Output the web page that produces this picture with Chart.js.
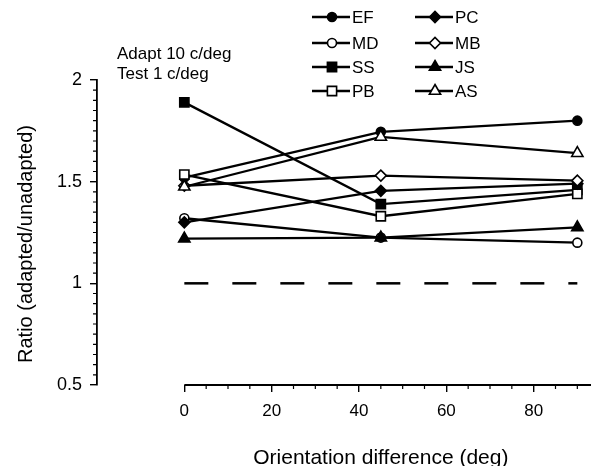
<!DOCTYPE html>
<html>
<head>
<meta charset="utf-8">
<script src="https://cdn.jsdelivr.net/npm/chart.js@4.4.1/dist/chart.umd.min.js"></script>
<style>
  html, body { margin: 0; padding: 0; background: #fff; overflow: hidden; }
</style>
</head>
<body>
<canvas id="mycanvas" width="630" height="466"></canvas>
<script>
// orientation difference (deg)
var angles = [0, 45, 90];

// ratio adapted/unadapted, one array per subject
var EF = [1.52, 1.745, 1.80];
var MD = [1.32, 1.225, 1.20];
var SS = [1.89, 1.39, 1.46];
var PB = [1.535, 1.33, 1.44];
var PC = [1.30, 1.455, 1.49];
var MB = [1.48, 1.53, 1.505];
var JS = [1.22, 1.225, 1.275];
var AS = [1.475, 1.72, 1.64];

// no-effect reference line
var refX = [0, 90];
var refY = [1, 1];

var xTickLabels = [0, 20, 40, 60, 80];
var yTickLabels = [0.5, 1, 1.5, 2];

var FONT = "'Liberation Sans', Arial, Helvetica, sans-serif";

function pts(xs, ys) {
	var out = [];
	for (var i in xs) out.push({x: xs[i], y: ys[i]});
	return out;
}

// name, data, marker, filled, radius
var subjects = [
	['EF', EF, 'circle', true, 4.5],
	['MD', MD, 'circle', false, 4.5],
	['SS', SS, 'rect', true, 6.5],
	['PB', PB, 'rect', false, 6.5],
	['PC', PC, 'rectRot', true, 5.5],
	['MB', MB, 'rectRot', false, 5.5],
	['JS', JS, 'triangle', true, 6.5],
	['AS', AS, 'triangle', false, 6.5]
];

var datasets = [];
datasets.push({
	label: 'ref',
	data: pts(refX, refY),
	borderColor: '#000',
	borderWidth: 2.5,
	borderDash: [24, 24],
	pointRadius: 0,
	order: 20
});
for (var i = 0; i < subjects.length; i++) {
	var s = subjects[i];
	datasets.push({
		label: s[0],
		data: pts(angles, s[1]),
		borderColor: '#000',
		borderWidth: 2.3,
		pointStyle: s[2],
		pointRadius: s[4],
		pointBorderWidth: 1.6,
		pointBorderColor: '#000',
		pointBackgroundColor: s[3] ? '#000' : '#fff',
		order: 10 - i
	});
}

var extras = {
	id: 'extras',
	afterDraw: function(chart) {
		var ctx = chart.ctx;
		var xs = chart.scales.x, ys = chart.scales.y;
		var bottom = chart.chartArea.bottom, left = chart.chartArea.left;
		ctx.save();
		ctx.strokeStyle = '#000';
		ctx.fillStyle = '#000';

		// x axis line starts at 0
		ctx.lineWidth = 1.8;
		ctx.beginPath();
		ctx.moveTo(xs.getPixelForValue(0), bottom);
		ctx.lineTo(chart.chartArea.right, bottom);
		ctx.stroke();

		// minor ticks
		ctx.lineWidth = 1.2;
		ctx.beginPath();
		for (var v = 0; v <= 100; v += 5) {
			if (v % 20 === 0) continue;
			var px = xs.getPixelForValue(v);
			ctx.moveTo(px, bottom);
			ctx.lineTo(px, bottom + 4);
		}
		for (var k = 10; k <= 40; k++) {
			if (k % 10 === 0) continue;
			var py = ys.getPixelForValue(k * 0.05);
			ctx.moveTo(left, py);
			ctx.lineTo(left - 4, py);
		}
		ctx.stroke();

		// axis titles
		ctx.font = '21px ' + FONT;
		ctx.textAlign = 'center';
		ctx.textBaseline = 'alphabetic';
		ctx.fillText('Orientation difference (deg)', xs.getPixelForValue(45), 464);
		ctx.save();
		ctx.translate(32, 244);
		ctx.rotate(-Math.PI / 2);
		ctx.font = '20px ' + FONT;
		ctx.fillText('Ratio (adapted/unadapted)', 0, 0);
		ctx.restore();

		// condition note
		ctx.font = '17px ' + FONT;
		ctx.textAlign = 'left';
		ctx.fillText('Adapt 10 c/deg', 117, 59);
		ctx.fillText('Test 1 c/deg', 117, 79);

		// legend
		var cols = [312, 415];
		var rows = [17, 43, 67, 91];
		ctx.textBaseline = 'middle';
		for (var i = 1; i < chart.data.datasets.length; i++) {
			var ds = chart.data.datasets[i];
			var n = i - 1;
			var lx = cols[n < 4 ? 0 : 1];
			var ly = rows[n % 4];
			ctx.lineWidth = 2.3;
			ctx.beginPath();
			ctx.moveTo(lx, ly);
			ctx.lineTo(lx + 38, ly);
			ctx.stroke();
			ctx.fillStyle = ds.pointBackgroundColor;
			ctx.strokeStyle = '#000';
			ctx.lineWidth = 1.6;
			Chart.helpers.drawPoint(ctx, {
				pointStyle: ds.pointStyle,
				radius: ds.pointRadius,
				rotation: 0,
				borderWidth: 1.6
			}, lx + 20, ly);
			ctx.fillStyle = '#000';
			ctx.fillText(ds.label, lx + 40, ly + 1);
		}
		ctx.restore();
	}
};

var ctx = document.getElementById('mycanvas');
var chart = new Chart(ctx, {
	type: 'line',
	data: {datasets: datasets},
	options: {
		responsive: false,
		animation: false,
		layout: {padding: {top: 80, right: 9, left: 0, bottom: 0}},
		plugins: {legend: {display: false}, tooltip: {enabled: false}},
		scales: {
			x: {
				type: 'linear',
				min: -20,
				max: 100,
				afterFit: function(scale) { scale.height = 81; },
				border: {display: false},
				grid: {
					drawOnChartArea: false,
					tickLength: 7,
					lineWidth: 1.4,
					color: function(c) {
						return (c.tick && c.tick.value >= 0) ? '#000' : 'rgba(0,0,0,0)';
					}
				},
				ticks: {
					stepSize: 20,
					autoSkip: false,
					maxRotation: 0,
					padding: 9,
					color: '#000',
					font: {family: FONT, size: 17},
					callback: function(v) {
						return xTickLabels.indexOf(v) >= 0 ? String(v) : '';
					}
				}
			},
			y: {
				min: 0.5,
				max: 2,
				afterFit: function(scale) { scale.width = 97; },
				border: {display: true, color: '#000', width: 1.8},
				grid: {drawOnChartArea: false, tickLength: 7, color: '#000', lineWidth: 1.4},
				ticks: {
					stepSize: 0.5,
					padding: 8,
					color: '#000',
					font: {family: FONT, size: 18},
					callback: function(v) {
						return yTickLabels.indexOf(v) >= 0 ? String(v) : '';
					}
				}
			}
		}
	},
	plugins: [extras]
});
</script>
</body>
</html>
